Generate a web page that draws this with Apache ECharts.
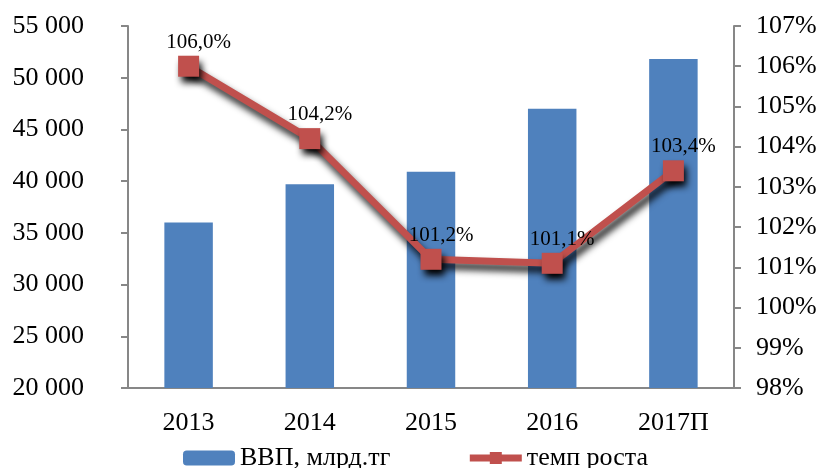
<!DOCTYPE html>
<html>
<head>
<meta charset="utf-8">
<script src="https://cdn.jsdelivr.net/npm/echarts@6/dist/echarts.min.js"></script>
<style>
  html, body { margin: 0; padding: 0; background: #fff; }
  #chart { width: 820px; height: 468px; }
</style>
</head>
<body>
<div id="chart"></div>
<script>
var years = ['2013', '2014', '2015', '2016', '2017П']
var gdp = [36000, 39700, 40900, 47000, 51800]
var growth = [106.0, 104.2, 101.2, 101.1, 103.4]

var font = '"Liberation Serif", "Times New Roman", serif'
var axisGray = '#878787'

var myChart = echarts.init(document.getElementById('chart'))
var option = {
    animation: false,
    textStyle: { fontFamily: font, color: '#000' },
    grid: { left: 128, right: 86, top: 26, bottom: 80 },
    legend: {
        top: 440,
        left: 178,
        itemGap: 76,
        itemWidth: 52,
        itemHeight: 15,
        textStyle: { fontFamily: font, fontSize: 26, color: '#000' },
        data: [
            { name: 'ВВП, млрд.тг' },
            { name: 'темп роста', lineStyle: { width: 7 } }
        ]
    },
    xAxis: {
        type: 'category',
        data: years,
        axisLine: { lineStyle: { color: axisGray, width: 2 } },
        axisTick: { lineStyle: { color: axisGray, width: 2 }, length: 7 },
        axisLabel: { fontFamily: font, fontSize: 26, color: '#000', margin: 22 }
    },
    yAxis: [
        {
            type: 'value',
            min: 20000,
            max: 55000,
            interval: 5000,
            splitLine: { show: false },
            axisLine: { show: true, lineStyle: { color: axisGray, width: 2 } },
            axisTick: { show: true, lineStyle: { color: axisGray, width: 2 }, length: 7 },
            axisLabel: {
                fontFamily: font, fontSize: 26, color: '#000', margin: 44,
                formatter: function (v) { return String(v).replace(/(\d+)(\d{3})$/, '$1 $2') }
            }
        },
        {
            type: 'value',
            min: 98,
            max: 107,
            interval: 1,
            splitLine: { show: false },
            axisLine: { show: true, lineStyle: { color: axisGray, width: 2 } },
            axisTick: { show: true, lineStyle: { color: axisGray, width: 2 }, length: 7 },
            axisLabel: { fontFamily: font, fontSize: 26, color: '#000', margin: 22, formatter: '{value}%' }
        }
    ],
    series: [
        {
            name: 'ВВП, млрд.тг',
            type: 'bar',
            barWidth: '40%',
            itemStyle: { color: '#4F81BD' },
            data: gdp
        },
        {
            name: 'темп роста',
            type: 'line',
            yAxisIndex: 1,
            symbol: 'rect',
            symbolSize: 21,
            lineStyle: {
                color: '#C0504D',
                width: 7,
                shadowColor: 'rgba(0,0,0,0.9)',
                shadowBlur: 7,
                shadowOffsetX: 3,
                shadowOffsetY: 6
            },
            itemStyle: {
                color: '#C0504D',
                shadowColor: 'rgba(0,0,0,1)',
                shadowBlur: 7,
                shadowOffsetX: 3,
                shadowOffsetY: 6
            },
            label: {
                show: true,
                position: 'top',
                offset: [10, 2],
                fontFamily: font,
                fontSize: 21,
                color: '#000',
                formatter: function (p) { return p.value.toFixed(1).replace('.', ',') + '%' }
            },
            data: growth
        }
    ]
}
myChart.setOption(option)
</script>
</body>
</html>
